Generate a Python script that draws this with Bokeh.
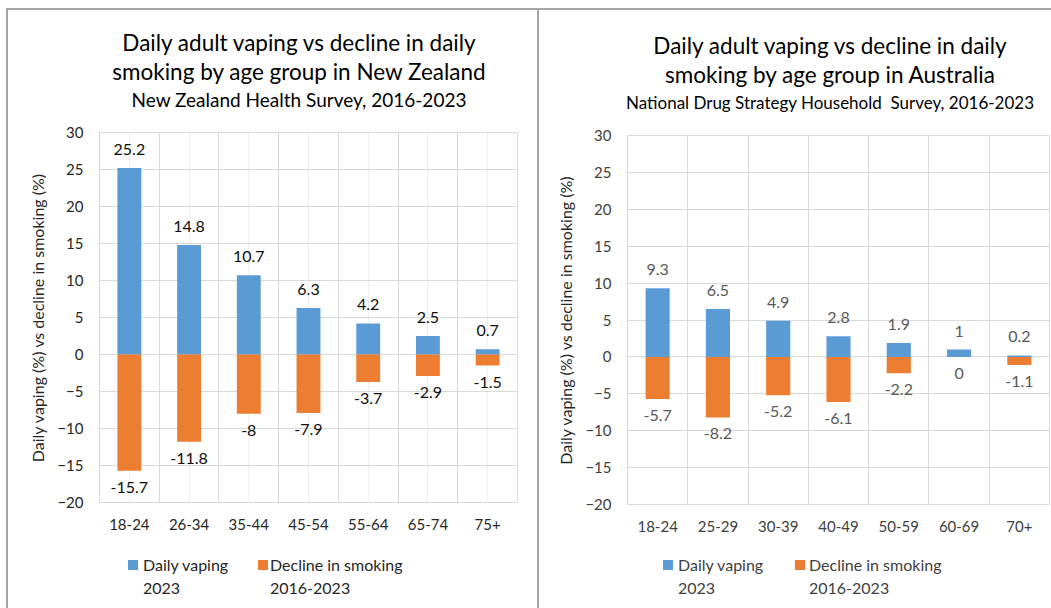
from bokeh.plotting import figure
from bokeh.layouts import row, column
from bokeh.models import ColumnDataSource, FixedTicker, Range1d, LabelSet, Div
from bokeh.embed import file_html
from bokeh.resources import INLINE
from bokeh.core.properties import value

# ---------------- data ----------------
nz_groups = ["18-24", "26-34", "35-44", "45-54", "55-64", "65-74", "75+"]
nz_vaping = [25.2, 14.8, 10.7, 6.3, 4.2, 2.5, 0.7]
nz_decline = [-15.7, -11.8, -8, -7.9, -3.7, -2.9, -1.5]

au_groups = ["18-24", "25-29", "30-39", "40-49", "50-59", "60-69", "70+"]
au_vaping = [9.3, 6.5, 4.9, 2.8, 1.9, 1, 0.2]
au_decline = [-5.7, -8.2, -5.2, -6.1, -2.2, 0, -1.1]

y_ticks = [-20, -15, -10, -5, 0, 5, 10, 15, 20, 25, 30]

series_names = [["Daily vaping", "2023"], ["Decline in smoking", "2016-2023"]]
BLUE = "#5B9BD5"
ORANGE = "#ED7D31"
FONT = "Lato"
GRID = "#d9d9d9"


def fmt(v):
    return f"{v:g}"


def title_div(width, t1, t2, sub, sub_size, pad_left, pad_top, sub_lh):
    html = (
        f'<div style="position:relative;width:{width}px;height:112px;font-family:{FONT};'
        f'color:#000;">'
        f'<div style="position:absolute;left:{pad_left}px;top:{pad_top}px;'
        f'width:{width - pad_left}px;text-align:center;">'
        f'<div style="font-size:22.5px;line-height:29px;white-space:nowrap;">{t1}</div>'
        f'<div style="font-size:22.5px;line-height:29px;white-space:nowrap;">{t2}</div>'
        f'<div style="font-size:{sub_size};line-height:{sub_lh}px;white-space:pre;">{sub}</div>'
        f'</div></div>'
    )
    return Div(text=html, width=width, height=112, margin=0)


def legend_div(width, height, xs, text_color):
    colors = [BLUE, ORANGE]
    parts = []
    for (sq_x, tx_x), c, lines in zip(xs, colors, series_names):
        parts.append(
            f'<div style="position:absolute;left:{sq_x}px;top:15px;width:10px;'
            f'height:10px;background:{c};"></div>')
        parts.append(
            f'<div style="position:absolute;left:{tx_x}px;top:8px;font-size:16px;'
            f'line-height:23px;white-space:nowrap;color:{text_color};">'
            + "<br>".join(lines) + '</div>')
    html = (f'<div style="position:relative;width:{width}px;height:{height}px;'
            f'font-family:{FONT};">' + "".join(parts) + '</div>')
    return Div(text=html, width=width, height=height, margin=0)


def make_panel(groups, vaping, decline, fw, fh, mb_left, mb_right, mb_top, mb_bottom,
               label_color, tick_color, minor_grid):
    n = len(groups)
    xs = [i + 1 for i in range(n)]
    p = figure(frame_width=fw, frame_height=fh, output_backend="svg", toolbar_location=None,
               title=None, x_range=Range1d(0.5, n + 0.5),
               y_range=Range1d(y_ticks[0], y_ticks[-1]),
               min_border_left=mb_left, min_border_right=mb_right,
               min_border_top=mb_top, min_border_bottom=mb_bottom)
    p.background_fill_color = "white"
    p.border_fill_color = "white"
    p.outline_line_color = GRID

    src = ColumnDataSource(dict(x=xs, vap=vaping, dec=decline,
                                vap_t=[fmt(v) for v in vaping],
                                dec_t=[fmt(v) for v in decline],
                                zero=[0] * n))
    p.vbar(x="x", bottom="zero", top="vap", width=0.4, source=src,
           fill_color=BLUE, line_color=None)
    p.vbar(x="x", bottom="zero", top="dec", width=0.4, source=src,
           fill_color=ORANGE, line_color=None)

    p.add_layout(LabelSet(x="x", y="vap", text="vap_t", source=src, text_align="center",
                          text_baseline="bottom", y_offset=13, text_font=value(FONT),
                          text_font_size=value("16px"), text_color=value(label_color)))
    p.add_layout(LabelSet(x="x", y="dec", text="dec_t", source=src, text_align="center",
                          text_baseline="top", y_offset=-11, text_font=value(FONT),
                          text_font_size=value("16px"), text_color=value(label_color)))

    # axes
    p.yaxis.ticker = FixedTicker(ticks=y_ticks)
    p.xaxis.ticker = FixedTicker(ticks=xs)
    p.xaxis.major_label_overrides = {x: g for x, g in zip(xs, groups)}
    for ax in (p.xaxis[0], p.yaxis[0]):
        ax.axis_line_color = None
        ax.major_tick_line_color = None
        ax.minor_tick_line_color = None
        ax.major_tick_out = 0
        ax.major_label_text_font = FONT
        ax.major_label_text_font_size = "15px"
        ax.major_label_text_color = tick_color
    p.yaxis.major_label_standoff = 16
    p.xaxis.major_label_standoff = 16
    p.yaxis.axis_label = "Daily vaping (%) vs decline in smoking (%)"
    p.yaxis.axis_label_text_font = FONT
    p.yaxis.axis_label_text_font_size = "16px"
    p.yaxis.axis_label_text_font_style = "normal"
    p.yaxis.axis_label_text_color = "#262626"
    p.yaxis.axis_label_standoff = 7

    # grid
    p.ygrid.grid_line_color = GRID
    p.xgrid.ticker = FixedTicker(ticks=[i + 0.5 for i in range(n + 1)],
                                 minor_ticks=xs if minor_grid else [])
    p.xgrid.grid_line_color = GRID
    if minor_grid:
        p.xgrid.minor_grid_line_color = "#efefef"
    return p


p1 = make_panel(nz_groups, nz_vaping, nz_decline, 418, 370, 91, 20, 10, 43,
                "#0d0d0d", "#262626", True)
p2 = make_panel(au_groups, au_vaping, au_decline, 422, 369, 88, 4, 13, 41,
                "#595959", "#404040", False)

t1 = title_div(529, "Daily adult vaping vs decline in daily",
               "smoking by age group in New Zealand",
               "New Zealand Health Survey, 2016-2023", "19px", 53, 17.5, 28)
t2 = title_div(514, "Daily adult vaping vs decline in daily",
               "smoking by age group in Australia",
               "National Drug Strategy Household  Survey, 2016-2023", "17px", 68, 20.5, 27)

l1 = legend_div(529, 63, [(120, 135), (250, 262)], "#262626")
l2 = legend_div(514, 63, [(124, 139), (256, 270)], "#404040")

border = "2px solid #a6a6a6"
c1 = column(t1, p1, l1, spacing=0,
            styles={"border-left": border, "border-top": border, "background": "white"})
c2 = column(t2, p2, l2, spacing=0,
            styles={"border-left": border, "border-top": border, "background": "white"})

layout = row(c1, c2, spacing=0, styles={"margin-left": "6px", "margin-top": "8px"})

open("out.html", "w").write(file_html(layout, INLINE))
